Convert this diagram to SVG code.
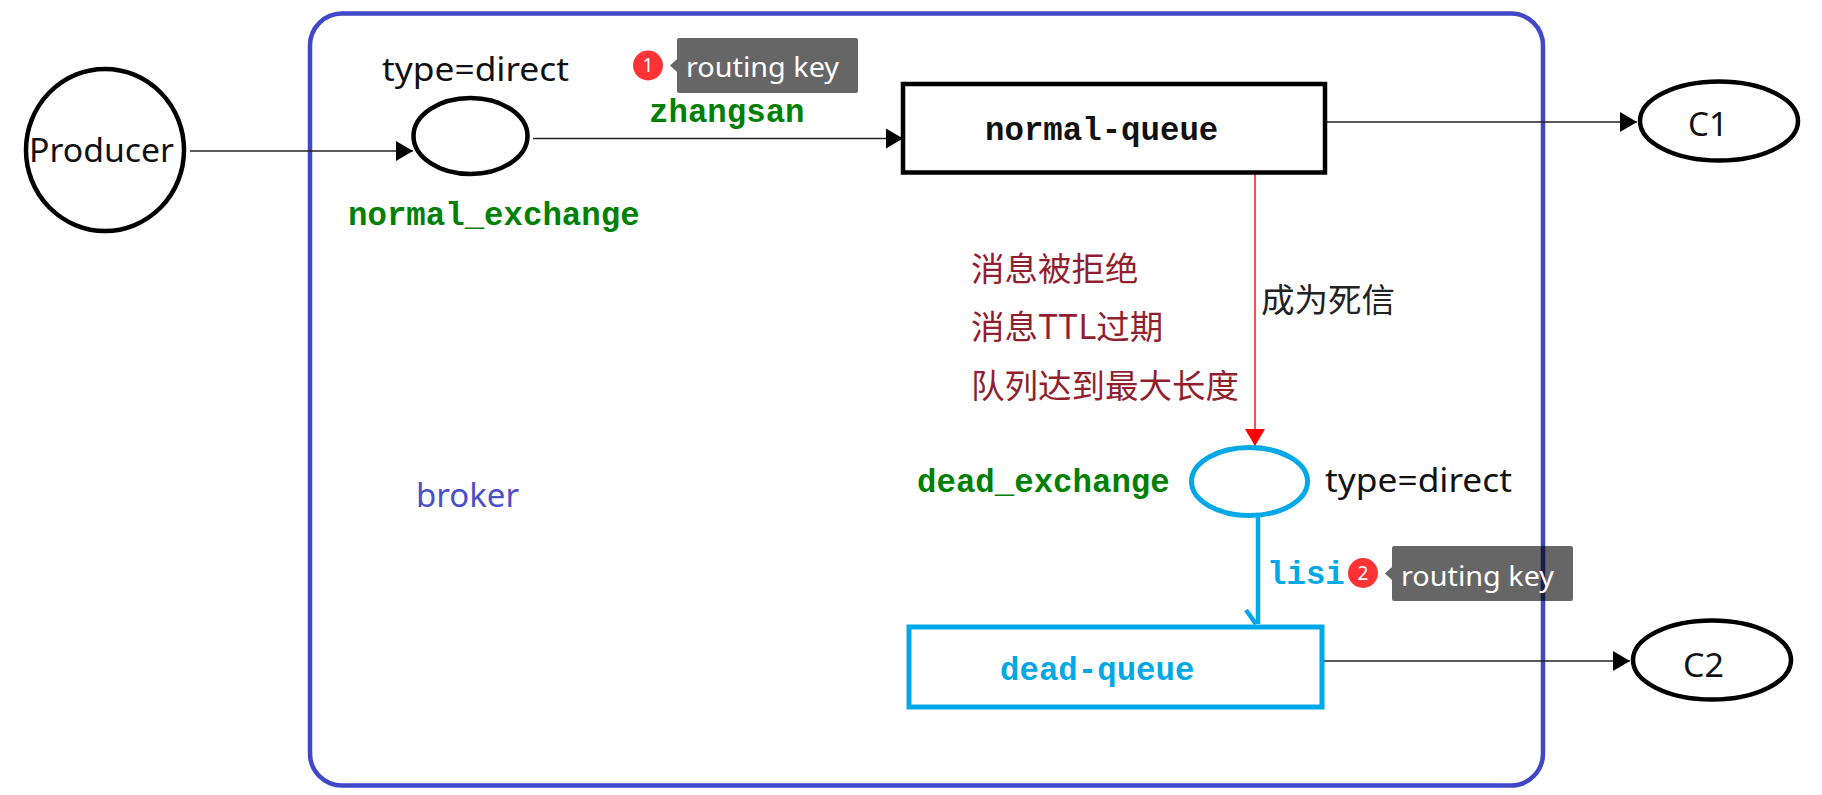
<svg xmlns="http://www.w3.org/2000/svg" width="1822" height="795" viewBox="0 0 1822 795">
<style>
.t{font-family:"Noto Sans","Noto Sans CJK SC",sans-serif;font-size:33px;fill:#111}
.c{font-family:"Noto Sans CJK SC","Noto Sans",sans-serif;font-size:33.5px;fill:#921f30}
.m{font-family:"Liberation Mono",monospace;font-size:32.400px;font-weight:700;fill:#008000}
.n{fill:#fff;stroke:#000;stroke-width:4.500}
.d{fill:#fff;stroke:#00a8e8;stroke-width:5}
.l{fill:none;stroke:#222;stroke-width:1.600}
.tip{fill:#000;fill-opacity:.6}
.dot{fill:#f33}
.w{font-family:"Noto Sans",sans-serif;fill:#fff}
</style>
<defs>
<marker id="ah" markerUnits="userSpaceOnUse" markerWidth="19" markerHeight="20" refX="17" refY="10" orient="auto"><path d="M0 0L17 10L0 20Z" fill="#000"/></marker>
<marker id="ar" markerUnits="userSpaceOnUse" markerWidth="19" markerHeight="20" refX="17" refY="10" orient="auto"><path d="M0 0L17 10L0 20Z" fill="#f00"/></marker>
</defs>
<g id="broker"><rect x="310" y="13.500" width="1233" height="772" rx="32" fill="#fff" stroke="#4048c8" stroke-width="4.500"/><text x="416" y="507" class="t" style="fill:#4a50c8" textLength="103" lengthAdjust="spacingAndGlyphs">broker</text></g>
<g id="connectors">
<path class="l" d="M190 151H413" marker-end="url(#ah)"/>
<path class="l" d="M533 138.500H903" marker-end="url(#ah)"/>
<path class="l" d="M1326 122H1637" marker-end="url(#ah)"/>
<path class="l" d="M1323 661H1630" marker-end="url(#ah)"/>
<path d="M1255 174V446" fill="none" stroke="#f00" stroke-width="1.400" marker-end="url(#ar)"/>
<path d="M1258 517V624M1246 610L1256 624" fill="none" stroke="#00a8e8" stroke-width="4.500"/>
</g>
<g id="producer"><ellipse class="n" cx="105" cy="150" rx="79" ry="81"/><text class="t" x="29" y="162" textLength="145" lengthAdjust="spacingAndGlyphs">Producer</text></g>
<g id="normal_exchange"><ellipse class="n" cx="470.500" cy="136" rx="57" ry="38"/><text class="t" x="382" y="81" textLength="187" lengthAdjust="spacingAndGlyphs">type=direct</text><text class="m" x="348" y="225">normal_exchange</text></g>
<g id="normal_queue"><rect class="n" x="903" y="84" width="422" height="88.500"/><text class="m" x="985" y="140" style="fill:#111">normal-queue</text></g>
<g id="c1"><ellipse class="n" cx="1719" cy="121" rx="79" ry="39.500"/><text class="t" x="1688" y="136" textLength="40" lengthAdjust="spacingAndGlyphs">C1</text></g>
<g id="dead_exchange"><ellipse class="d" cx="1249.500" cy="481.500" rx="58" ry="34"/><text class="m" x="917" y="492">dead_exchange</text><text class="t" x="1325" y="492" textLength="187" lengthAdjust="spacingAndGlyphs">type=direct</text></g>
<g id="dead_queue"><rect class="d" x="909" y="627" width="413" height="80"/><text class="m" x="1000" y="680" style="fill:#00a8e8">dead-queue</text></g>
<g id="c2"><ellipse class="n" cx="1712" cy="660" rx="79" ry="39.500"/><text class="t" x="1683" y="677" textLength="41" lengthAdjust="spacingAndGlyphs">C2</text></g>
<g id="labels">
<text class="m" x="649" y="122">zhangsan</text>
<text class="m" x="1267" y="584" style="fill:#00a8e8">lisi</text>
<text class="c" x="971" y="281">消息被拒绝</text>
<text class="c" x="971" y="339">消息TTL过期</text>
<text class="c" x="971" y="398">队列达到最大长度</text>
<text class="c" x="1261" y="312" style="fill:#222">成为死信</text>
</g>
<g id="routing_key_1"><circle class="dot" cx="648" cy="65.500" r="15"/><text class="w" x="648" y="72" font-size="19" text-anchor="middle">1</text><path class="tip" d="M679 38H856a2 2 0 0 1 2 2V91a2 2 0 0 1-2 2H679a2 2 0 0 1-2-2V72L670 65.500L677 59V40a2 2 0 0 1 2-2Z"/><text class="w" x="686" y="77" font-size="28" textLength="153" lengthAdjust="spacingAndGlyphs">routing key</text></g>
<g id="routing_key_2"><circle class="dot" cx="1363" cy="573" r="15"/><text class="w" x="1363" y="579.500" font-size="19" text-anchor="middle">2</text><path class="tip" d="M1394 546H1571a2 2 0 0 1 2 2V599a2 2 0 0 1-2 2H1394a2 2 0 0 1-2-2V580L1385 573.500L1392 567V548a2 2 0 0 1 2-2Z"/><text class="w" x="1401" y="586" font-size="28" textLength="153" lengthAdjust="spacingAndGlyphs">routing key</text></g>
</svg>
